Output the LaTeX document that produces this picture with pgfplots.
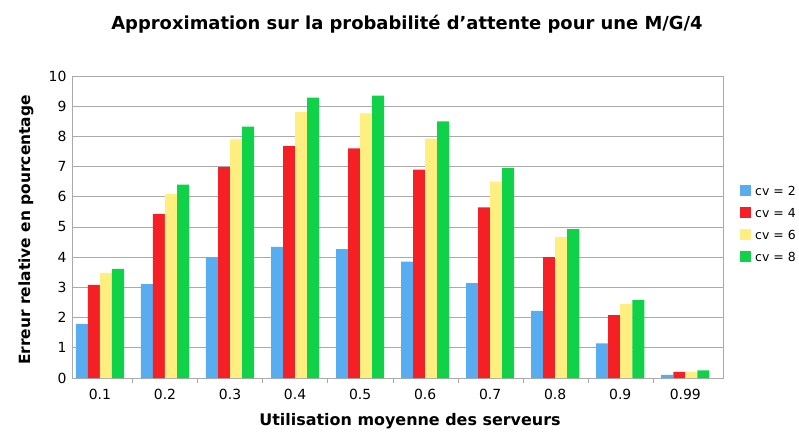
\documentclass[border=0pt]{standalone}
\usepackage{pgfplots}
\pgfplotsset{compat=1.18}
\usepackage{fontspec}
\setmainfont{DejaVu Sans}
\usetikzlibrary{calc}
\definecolor{cblue}{RGB}{88,172,240}
\definecolor{cred}{RGB}{245,32,38}
\definecolor{cyel}{RGB}{255,238,128}
\definecolor{cgreen}{RGB}{16,210,72}
\definecolor{gridc}{RGB}{170,170,170}
\begin{document}
\begin{tikzpicture}
\begin{axis}[
  scale only axis, width=651bp, height=302bp,
  xmin=-0.43, xmax=9.58, ymin=0, ymax=10,
  ybar=0pt, bar width=0.185,
  xtick={0,...,9},
  xticklabels={0.1,0.2,0.3,0.4,0.5,0.6,0.7,0.8,0.9,0.99},
  major x tick style={draw=none},
  minor xtick={0.5,1.5,...,8.5},
  minor x tick style={gridc},
  minor tick length=5bp,
  xtick pos=bottom, xtick align=outside,
  ytick={0,...,10}, ytick pos=left, ytick style={draw=none},
  ymajorgrids, grid style={gridc, line width=0.8pt},
  axis line style={gridc, line width=0.8pt},
  tick label style={font=\fontsize{14}{16}\selectfont},
  /pgf/number format/assume math mode=true,
  xticklabel style={yshift=-3bp},
  yticklabel style={xshift=-2bp},
  legend style={at={(rel axis cs:1,0.648)}, anchor=north west, xshift=16bp, draw=none, fill=none,
    font=\fontsize{12.5}{15}\selectfont, row sep=5bp, inner sep=1bp,
    nodes={text height=10bp, text depth=3bp}},
  legend image code/.code={\draw[#1, draw=none] (0bp,-4bp) rectangle (11bp,7bp); \path (13bp,0bp);},
]
\addplot[fill=cblue, draw=none] coordinates {(0,1.79) (1,3.11) (2,4.0) (3,4.34) (4,4.27) (5,3.85) (6,3.14) (7,2.22) (8,1.15) (9,0.1)};
\addplot[fill=cred, draw=none] coordinates {(0,3.08) (1,5.43) (2,6.98) (3,7.68) (4,7.6) (5,6.9) (6,5.65) (7,4.0) (8,2.08) (9,0.2)};
\addplot[fill=cyel, draw=none] coordinates {(0,3.48) (1,6.1) (2,7.9) (3,8.8) (4,8.76) (5,7.93) (6,6.5) (7,4.67) (8,2.45) (9,0.2)};
\addplot[fill=cgreen, draw=none] coordinates {(0,3.61) (1,6.4) (2,8.32) (3,9.28) (4,9.35) (5,8.5) (6,6.95) (7,4.93) (8,2.58) (9,0.25)};
\legend{cv = 2, cv = 4, cv = 6, cv = 8}
\end{axis}
\coordinate (O) at ($(current axis.south west)+(-72bp,-63bp)$);
\node[font=\bfseries\fontsize{18}{20}\selectfont] at ($(O)+(407bp,417bp)$) {Approximation sur la probabilité d'attente pour une M/G/4};
\node[font=\bfseries\fontsize{15.5}{18}\selectfont, rotate=90] at ($(O)+(26bp,211bp)$) {Erreur relative en pourcentage};
\node[font=\bfseries\fontsize{16}{18}\selectfont] at ($(O)+(410bp,20bp)$) {Utilisation moyenne des serveurs};
\pgfresetboundingbox
\path[use as bounding box] (O) rectangle ++(799bp,441bp);
\end{tikzpicture}
\end{document}
